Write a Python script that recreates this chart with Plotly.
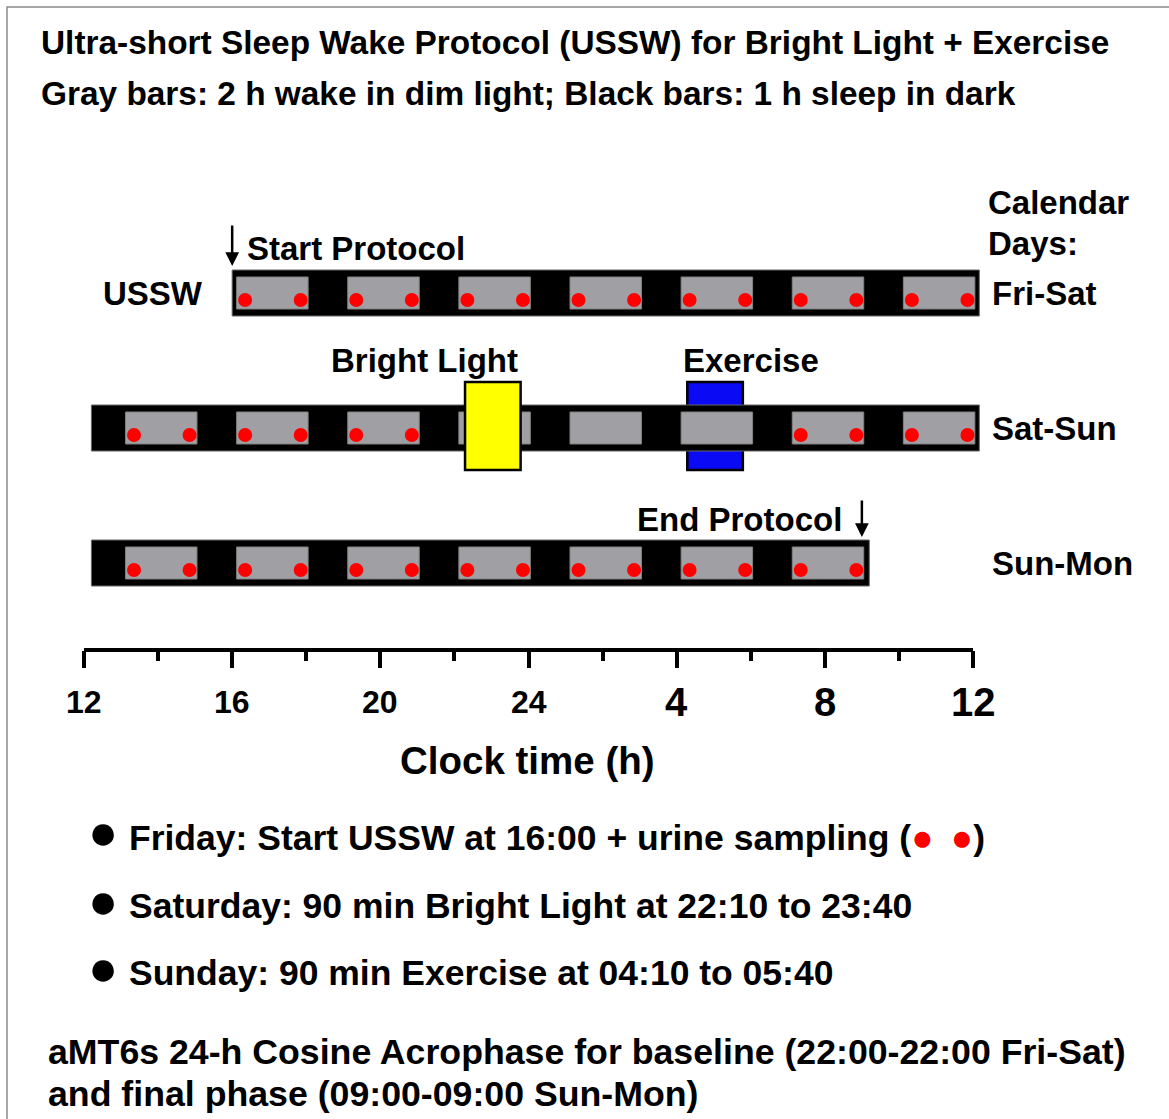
import plotly.graph_objects as go

# ---------------- data ----------------
days = ["Fri-Sat", "Sat-Sun", "Sun-Mon"]
row_start = [16.0, 12.2, 12.2]          # clock hours on a 12..36 scale
row_end = [36.17, 36.17, 33.2]
wake_starts = [
    [16, 19, 22, 25, 28, 31, 34],
    [13, 16, 19, 22, 25, 28, 31, 34],
    [13, 16, 19, 22, 25, 28, 31],
]
wake_hours = 2
sample_blocks = [
    [16, 19, 22, 25, 28, 31, 34],
    [13, 16, 19, 31, 34],
    [13, 16, 19, 22, 25, 28, 31],
]
sample_offsets = [0.35, 1.85]
light_on, light_off = 22 + 10 / 60, 23 + 40 / 60
exercise_on, exercise_off = 28 + 10 / 60, 29 + 40 / 60
intervention_row = 1
protocol_start = 16.0
protocol_end = 33.0
tick_vals = [12, 16, 20, 24, 28, 32, 36]
tick_text = ["12", "16", "20", "24", "4", "8", "12"]
tick_big = [False, False, False, False, True, True, True]
minor_vals = [14, 18, 22, 26, 30, 34]

title1 = "Ultra-short Sleep Wake Protocol (USSW) for Bright Light + Exercise"
title2 = "Gray bars: 2 h wake in dim light; Black bars: 1 h sleep in dark"
red_dot = "<span style='color:#ff0000;font-size:37px'>●</span>"
gap = "<span style='font-size:31px'>\u00a0\u00a0</span>"
bullets = [
    "Friday: Start USSW at 16:00 + urine sampling (" + red_dot + gap + red_dot + ")",
    "Saturday: 90 min Bright Light at 22:10 to 23:40",
    "Sunday: 90 min Exercise at 04:10 to 05:40",
]
footer = [
    "aMT6s 24-h Cosine Acrophase for baseline (22:00-22:00 Fri-Sat)",
    "and final phase (09:00-09:00 Sun-Mon)",
]

# ---------------- layout helpers ----------------
W, H = 1169, 1119
FONT = "Liberation Sans, Arial, sans-serif"
X0_PX, PX_PER_H = 84, 889 / 24
ROW0_PX, ROW_PX = 293, 135
SHIFT = 0.12  # small drawing offset of schematic blocks


def pxp(px):
    return px / W


def pyp(py):
    return 1 - py / H


def ydu(px):
    return px / ROW_PX


shapes = []
annotations = []


def ann(text, px, py, size, xanchor="left", color="black"):
    annotations.append(dict(
        text=f"<b>{text}</b>", x=pxp(px), y=pyp(py), xref="paper", yref="paper",
        xanchor=xanchor, yanchor="middle", showarrow=False,
        font=dict(family=FONT, size=size, color=color)))


# exercise (blue) box – behind the bar
r = intervention_row
shapes.append(dict(type="rect", xref="x", yref="y", layer="below",
                   x0=exercise_on + SHIFT, x1=exercise_off + SHIFT,
                   y0=r - ydu(46), y1=r + ydu(42),
                   fillcolor="#0a0af5", line=dict(color="black", width=2.5)))

# black sleep bars + gray wake blocks
for i, d in enumerate(days):
    shapes.append(dict(type="rect", xref="x", yref="y", layer="below",
                       x0=row_start[i], x1=row_end[i],
                       y0=i - ydu(23), y1=i + ydu(23),
                       fillcolor="black", line=dict(color="#666666", width=1)))
    for s in wake_starts[i]:
        shapes.append(dict(type="rect", xref="x", yref="y", layer="below",
                           x0=s + SHIFT, x1=s + wake_hours + 0.05,
                           y0=i - ydu(16), y1=i + ydu(16),
                           fillcolor="#a0a0a4", line=dict(color="#808080", width=1)))

# bright light (yellow) box – in front of the bar
shapes.append(dict(type="rect", xref="x", yref="y", layer="below",
                   x0=light_on + SHIFT, x1=light_off + SHIFT,
                   y0=r - ydu(46), y1=r + ydu(42),
                   fillcolor="#ffff00", line=dict(color="black", width=2.5)))

# axis line
shapes.append(dict(type="line", xref="x", yref="paper", x0=12, x1=36,
                   y0=pyp(650), y1=pyp(650), line=dict(color="black", width=4)))

# border
shapes.append(dict(type="rect", xref="paper", yref="paper", x0=pxp(7), x1=1.05,
                   y0=-0.05, y1=pyp(7), line=dict(color="#8a8a8a", width=1.5),
                   fillcolor="rgba(0,0,0,0)"))

# urine sampling dots
dx, dy = [], []
for i in range(len(days)):
    for s in sample_blocks[i]:
        for o in sample_offsets:
            dx.append(s + o)
            dy.append(i + ydu(7))

fig = go.Figure()
fig.add_trace(go.Scatter(x=dx, y=dy, mode="markers",
                         marker=dict(color="#ff0000", size=14, line=dict(width=0)),
                         hoverinfo="skip", showlegend=False))

# arrows
annotations.append(dict(x=protocol_start, y=pyp(266), xref="x", yref="paper",
                        ax=0, ay=-42, showarrow=True, arrowhead=2, arrowsize=1.1,
                        arrowwidth=2.5, arrowcolor="black", text=""))
annotations.append(dict(x=protocol_end, y=pyp(537), xref="x", yref="paper",
                        ax=0, ay=-38, showarrow=True, arrowhead=2, arrowsize=1.1,
                        arrowwidth=2.5, arrowcolor="black", text=""))

# texts
ann(title1, 39, 42, 33.4)
ann(title2, 39, 93, 33.4)
ann("Calendar", 986, 203, 33)
ann("Days:", 986, 243, 33)
ann("Start Protocol", 245, 248, 33)
ann("USSW", 101, 293, 33)
ann("Bright Light", 329, 361, 33)
ann("Exercise", 681, 361, 33)
ann("End Protocol", 635, 519, 33)
for i, d in enumerate(days):
    annotations.append(dict(text=f"<b>{d}</b>", x=pxp(990), y=i, xref="paper", yref="y",
                            xanchor="left", yanchor="middle", showarrow=False,
                            font=dict(family=FONT, size=33, color="black")))

# tick labels
for v, t, big in zip(tick_vals, tick_text, tick_big):
    annotations.append(dict(text=f"<b>{t}</b>", x=v, y=pyp(702), xref="x", yref="paper",
                            xanchor="center", yanchor="middle", showarrow=False,
                            font=dict(family=FONT, size=40 if big else 32, color="black")))
ann("Clock time (h)", 527, 760, 38.5, xanchor="center")

for b, py in zip(bullets, [837, 906, 973]):
    ann("●", 103, py - 5, 50, xanchor="center")
    ann(b, 127, py, 35.5)
for line, py in zip(footer, [1052, 1094]):
    ann(line, 46, py, 35.7)

fig.update_layout(
    width=W, height=H, margin=dict(l=0, r=0, t=0, b=0),
    paper_bgcolor="white", plot_bgcolor="rgba(0,0,0,0)",
    shapes=shapes, annotations=annotations, showlegend=False,
    xaxis=dict(range=[12 - X0_PX / PX_PER_H, 12 + (W - X0_PX) / PX_PER_H],
               domain=[0, 1], anchor="free", position=pyp(650),
               showgrid=False, zeroline=False, showline=False,
               tickvals=tick_vals, showticklabels=False,
               ticks="outside", ticklen=17, tickwidth=4, tickcolor="black",
               minor=dict(tickvals=minor_vals, ticks="outside", ticklen=10,
                          tickwidth=3.5, tickcolor="black"),
               fixedrange=True),
    yaxis=dict(range=[(H - ROW0_PX) / ROW_PX, -ROW0_PX / ROW_PX], domain=[0, 1],
               visible=False, showgrid=False, zeroline=False, fixedrange=True),
)

fig.write_html("out.html", config={"displayModeBar": False},
               post_script="document.body.style.margin='0';document.body.style.overflow='hidden';")
